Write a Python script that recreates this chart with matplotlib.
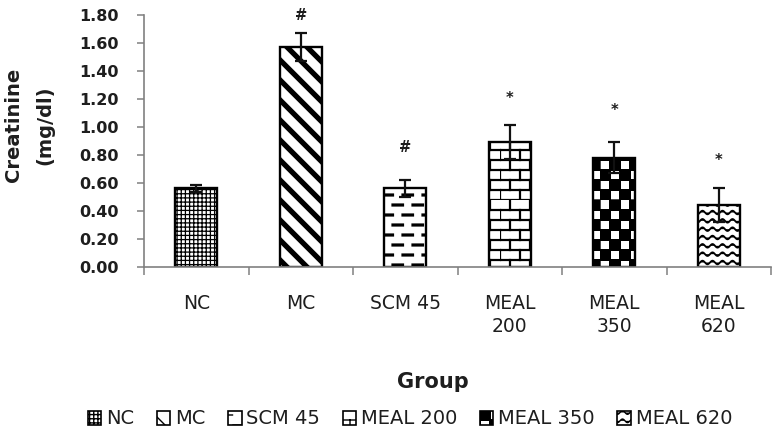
import warnings
warnings.filterwarnings("ignore")
import numpy as np
import matplotlib
matplotlib.use("Agg")
import matplotlib.pyplot as plt
from matplotlib import hatch as mhatch
from matplotlib.path import Path
from matplotlib.patches import Rectangle

# ---------------- data ----------------
groups = ["NC", "MC", "SCM 45", "MEAL\n200", "MEAL\n350", "MEAL\n620"]
legend_labels = ["NC", "MC", "SCM 45", "MEAL 200", "MEAL 350", "MEAL 620"]
creatinine = [0.56, 1.57, 0.56, 0.89, 0.78, 0.44]
sem = [0.025, 0.10, 0.06, 0.12, 0.11, 0.12]
marks = ["", "#", "#", "*", "*", "*"]
mark_y = [0.0, 1.80, 0.85, 1.20, 1.12, 0.76]
yticks = [0.0, 0.2, 0.4, 0.6, 0.8, 1.0, 1.2, 1.4, 1.6, 1.8]


# ---------------- custom hatch patterns ----------------
class _Custom(mhatch.HatchPatternBase):
    char = "?"

    def __init__(self, hatch, density):
        segs = self.build() if self.char in hatch else []
        verts, codes = [], []
        for seg, closed in segs:
            seg = np.asarray(seg, float)
            verts.extend(seg)
            c = [Path.MOVETO] + [Path.LINETO] * (len(seg) - 1)
            if closed:
                verts.append(seg[0])
                c.append(Path.CLOSEPOLY)
            codes.extend(c)
        self._v = np.array(verts, float).reshape(-1, 2)
        self._c = np.array(codes, dtype=Path.code_type)
        self.num_vertices = len(self._v)

    def set_vertices_and_codes(self, vertices, codes):
        vertices[:] = self._v
        codes[:] = self._c


class Stripes(_Custom):          # thick "\" stripes
    char = "S"

    def build(self):
        n = 5
        out = []
        for k in range(-2 * n, 2 * n + 1):
            s = k / (2 * n)
            out.append(([(0.0 + s, 1.0 + s), (1.0 + s, 0.0 + s)], False))
        return out


class Dashes(_Custom):           # staggered short horizontal dashes
    char = "D"

    def build(self):
        rows, per = 10, 5
        out = []
        for r in range(rows):
            y = (r + 0.5) / rows
            off = 0.5 / per if r % 2 else 0.0
            for c in range(per):
                x0 = (c / per + off + 0.03) % 1.0
                x1 = x0 + 0.095
                if x1 <= 1.0:
                    out.append(([(x0, y), (x1, y)], False))
                else:
                    out.append(([(x0, y), (1.0, y)], False))
                    out.append(([(0.0, y), (x1 - 1.0, y)], False))
        return out


class Bricks(_Custom):
    char = "B"

    def build(self):
        rows, per = 10, 5
        out = []
        for r in range(rows):
            y0 = r / rows
            out.append(([(0, y0), (1, y0)], False))
            off = 0.5 / per if r % 2 else 0.0
            for c in range(per):
                x = c / per + off
                out.append(([(x, y0), (x, y0 + 1 / rows)], False))
        return out


class Checker(_Custom):
    char = "K"

    def build(self):
        n = 10
        d = 1 / n
        out = []
        for i in range(n):
            for j in range(n):
                if (i + j) % 2 == 0:
                    x, y = i * d, j * d
                    out.append(([(x, y), (x + d, y), (x + d, y + d), (x, y + d)], True))
        for i in range(n):
            out.append(([(0, i * d), (1, i * d)], False))
            out.append(([(i * d, 0), (i * d, 1)], False))
        return out


class Waves(_Custom):
    char = "W"

    def build(self):
        rows, waves = 12, 10
        xs = np.linspace(0, 1, 201)
        out = []
        for r in range(rows):
            y = (r + 0.5) / rows
            ys = y + 0.018 * np.sin(2 * np.pi * waves * xs)
            out.append((np.column_stack([xs, ys]), False))
        return out


mhatch._hatch_types.extend([Stripes, Dashes, Bricks, Checker, Waves])

hatches = ["++++", "S", "D", "B", "K", "W"]
hatch_lw = [0.9, 3.8, 2.3, 1.6, 1.0, 1.3]

# ---------------- figure ----------------
TXT = "#1e1e1e"
plt.rcParams["font.family"] = ["DejaVu Sans"]

fig = plt.figure(figsize=(7.77, 4.38), dpi=100)
ax = fig.add_axes([144 / 777, 1 - 266.7 / 438, (771 - 144) / 777, (266.7 - 15) / 438])

x = np.arange(len(groups))
for i in range(len(groups)):
    with plt.rc_context({"hatch.linewidth": hatch_lw[i]}):
        b = ax.bar(x[i], creatinine[i], width=0.40, color="white", edgecolor="black",
                   linewidth=1.7, hatch=hatches[i], zorder=2)
    for p in b:
        if hasattr(p, "set_hatch_linewidth"):
            p.set_hatch_linewidth(hatch_lw[i])

ax.errorbar(x, creatinine, yerr=sem, fmt="none", ecolor="#111111", elinewidth=1.6,
            capsize=4.5, capthick=1.6, zorder=3)

for i in range(len(groups)):
    if marks[i]:
        ax.text(x[i], mark_y[i], marks[i], ha="center", va="center", fontsize=10.5,
                fontweight="bold", color=TXT)

ax.set_xlim(-0.5, 5.5)
ax.set_ylim(0, 1.8)
ax.set_yticks(yticks)
ax.set_yticklabels([f"{v:.2f}" for v in yticks], fontsize=11.5, fontweight="bold",
                   color=TXT)
ax.set_xticks(np.arange(-0.5, 6.0, 1.0))
ax.set_xticklabels([])
ax.set_xticks(x, minor=True)
ax.set_xticklabels(groups, minor=True, fontsize=13.5, color=TXT, linespacing=1.25)
ax.tick_params(axis="x", which="minor", length=0, pad=20)
ax.tick_params(axis="x", which="major", length=6, width=1.1, color="#808080", direction="out")
ax.tick_params(axis="y", length=5, width=1.1, color="#808080", direction="out", pad=13)

for s in ["top", "right"]:
    ax.spines[s].set_visible(False)
for s in ["left", "bottom"]:
    ax.spines[s].set_color("#808080")
    ax.spines[s].set_linewidth(1.2)

fig.text(29 / 777, 1 - 125 / 438, "Creatinine\n(mg/dl)", rotation=90, ha="center",
         va="center", fontsize=14, fontweight="bold", color=TXT, linespacing=1.8,
         multialignment="center")
fig.text(433 / 777, 1 - 382 / 438, "Group", ha="center", va="center", fontsize=15,
         fontweight="bold", color=TXT)

handles = []
for i in range(len(groups)):
    with plt.rc_context({"hatch.linewidth": hatch_lw[i]}):
        r = Rectangle((0, 0), 1, 1, facecolor="white", edgecolor="black", linewidth=1.2,
                      hatch=hatches[i])
    if hasattr(r, "set_hatch_linewidth"):
        r.set_hatch_linewidth(hatch_lw[i])
    handles.append(r)

fig.legend(handles, legend_labels, loc="center", bbox_to_anchor=(410 / 777, 1 - 419 / 438),
           ncol=6, frameon=False, fontsize=14, handlelength=0.7, handleheight=0.7,
           handletextpad=0.25, columnspacing=1.15, labelcolor=TXT)

fig.savefig("out.png", dpi=100)
